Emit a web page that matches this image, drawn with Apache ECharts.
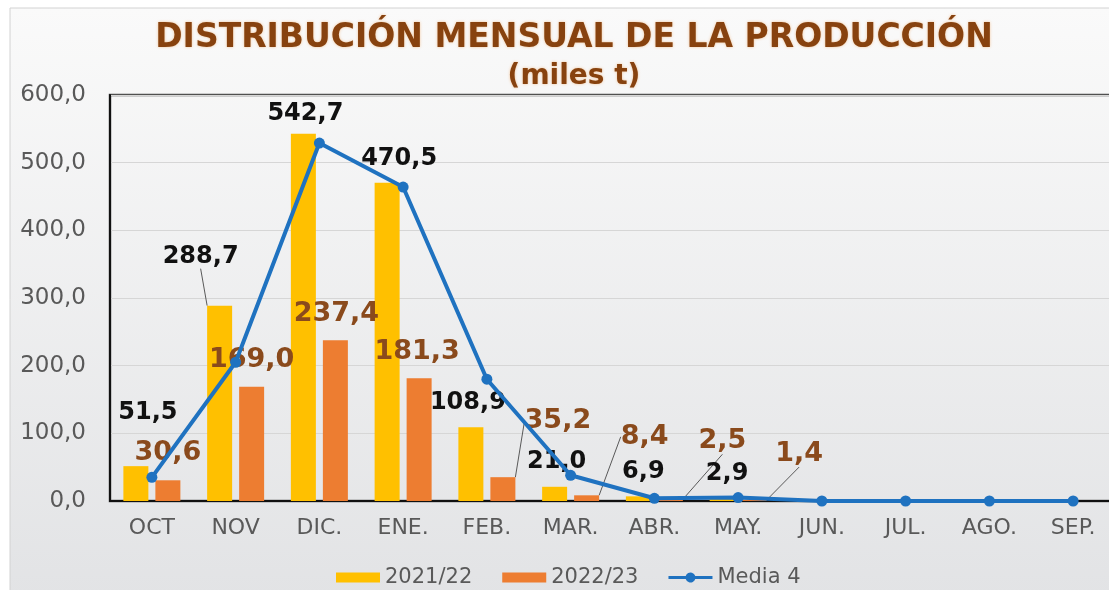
<!DOCTYPE html>
<html>
<head>
<meta charset="utf-8">
<script src="https://cdn.jsdelivr.net/npm/echarts@6/dist/echarts.min.js"></script>
<style>
html,body{margin:0;padding:0;background:#ffffff;}
#chart{width:1109px;height:590px;}
</style>
</head>
<body>
<div id="chart"></div>
<script>
// ---- data ----
const categories = ['OCT', 'NOV', 'DIC.', 'ENE.', 'FEB.', 'MAR.', 'ABR.', 'MAY.', 'JUN.', 'JUL.', 'AGO.', 'SEP.'];
const season2122 = [51.5, 288.7, 542.7, 470.5, 108.9, 21.0, 6.9, 2.9, null, null, null, null];
const season2223 = [30.6, 169.0, 237.4, 181.3, 35.2, 8.4, 2.5, 1.4, null, null, null, null];
const media4 = [35, 205, 529, 464, 180, 38, 4, 5, 0, 0, 0, 0];
const seriesNames = ['2021/22', '2022/23', 'Media 4'];
const yTicks = [0, 100, 200, 300, 400, 500, 600];

// ---- label placement (offsets from default 'top' position) ----
const offs2122 = [[12,-36],[-19,-32],[2,-3],[12,-7],[-3,-8],[2,-8],[5,-8],[5,-8]];
const lead2122 = [false,true,false,false,false,false,false,false];
const offs2223 = [[0,-9],[0,-8],[1,-8],[-2,-8],[55,-38],[58,-40],[52,-40],[45,-28]];
const lead2223 = [false,false,false,false,true,true,true,true];

const fmt = v => (v == null ? '' : Number(v).toFixed(1).replace('.', ','));
const FONT = 'DejaVu Sans';
const LINE_ICON = 'path://M0,3.5H17.23A5,5 0 0 1 26.77,3.5H44V6.5H26.77A5,5 0 0 1 17.23,6.5H0Z';

function buildData(vals, leads) {
  return vals.map((v, i) => ({ value: v, labelLine: { show: !!leads[i] } }));
}

const chart = echarts.init(document.getElementById('chart'), null, { renderer: 'canvas' });
chart.setOption({
  animation: false,
  backgroundColor: '#ffffff',
  graphic: [{
    type: 'rect', z: -10, silent: true,
    shape: { x: 10, y: 8, width: 1105, height: 590 },
    style: {
      fill: new echarts.graphic.LinearGradient(0, 0, 0, 1, [
        { offset: 0, color: '#fafafa' },
        { offset: 1, color: '#e2e3e5' }
      ]),
      stroke: '#d2d2d2', lineWidth: 1
    }
  }],
  title: {
    text: 'DISTRIBUCIÓN MENSUAL DE LA PRODUCCIÓN',
    subtext: '(miles t)',
    left: 569, textAlign: 'center', top: 17, itemGap: 8,
    textStyle: {
      fontFamily: FONT, fontSize: 33, fontWeight: 'bold', color: '#87420f',
      textShadowColor: 'rgba(235,150,70,0.55)', textShadowBlur: 3
    },
    subtextStyle: {
      fontFamily: FONT, fontSize: 28, fontWeight: 'bold', color: '#87420f',
      textShadowColor: 'rgba(235,150,70,0.55)', textShadowBlur: 3
    }
  },
  legend: {
    data: [
      { name: seriesNames[0], icon: 'rect' },
      { name: seriesNames[1], icon: 'rect' },
      { name: seriesNames[2], icon: LINE_ICON, itemStyle: { color: '#1f72c0' } }
    ],
    left: 331, top: 562,
    itemWidth: 44, itemHeight: 10, itemGap: 30,
    textStyle: { fontFamily: FONT, fontSize: 21, color: '#595959' }
  },
  grid: {
    left: 110, width: 1005, top: 95, bottom: 89,
    outerBoundsMode: 'none', containLabel: false,
    show: true, borderColor: '#505050', borderWidth: 2.5,
    backgroundColor: 'transparent'
  },
  xAxis: {
    type: 'category', data: categories,
    axisLine: { lineStyle: { color: '#111', width: 2 } },
    axisTick: { show: false },
    axisLabel: { fontFamily: FONT, fontSize: 22, color: '#595959', margin: 16 }
  },
  yAxis: {
    type: 'value', min: yTicks[0], max: yTicks[yTicks.length - 1], interval: 100,
    axisLine: { show: true, lineStyle: { color: '#111', width: 2 } },
    axisTick: { show: false },
    splitLine: { lineStyle: { color: '#d6d6d6', width: 1 } },
    axisLabel: { fontFamily: FONT, fontSize: 23, color: '#595959', margin: 24, formatter: v => fmt(v) }
  },
  series: [
    {
      name: seriesNames[0], type: 'bar', barWidth: 25, barGap: '28%',
      itemStyle: { color: '#FFC000' },
      data: buildData(season2122, lead2122),
      label: {
        show: true, position: 'top', distance: 5,
        fontFamily: FONT, fontSize: 24, fontWeight: 'bold', color: '#111',
        formatter: p => fmt(p.value)
      },
      labelLine: { lineStyle: { color: '#595959', width: 1 } },
      labelLayout: p => { const o = offs2122[p.dataIndex]; return o ? { dx: o[0], dy: o[1] } : {}; }
    },
    {
      name: seriesNames[1], type: 'bar', barWidth: 25,
      itemStyle: { color: '#ED7D31' },
      data: buildData(season2223, lead2223),
      label: {
        show: true, position: 'top', distance: 5,
        fontFamily: FONT, fontSize: 27, fontWeight: 'bold', color: '#8a4a1c',
        formatter: p => fmt(p.value)
      },
      labelLine: { lineStyle: { color: '#595959', width: 1 } },
      labelLayout: p => { const o = offs2223[p.dataIndex]; return o ? { dx: o[0], dy: o[1] } : {}; }
    },
    {
      name: seriesNames[2], type: 'line', z: 5,
      data: media4,
      symbol: 'circle', symbolSize: 11,
      itemStyle: { color: '#1f72c0' },
      lineStyle: { color: '#1f72c0', width: 4 }
    }
  ]
});
</script>
</body>
</html>
